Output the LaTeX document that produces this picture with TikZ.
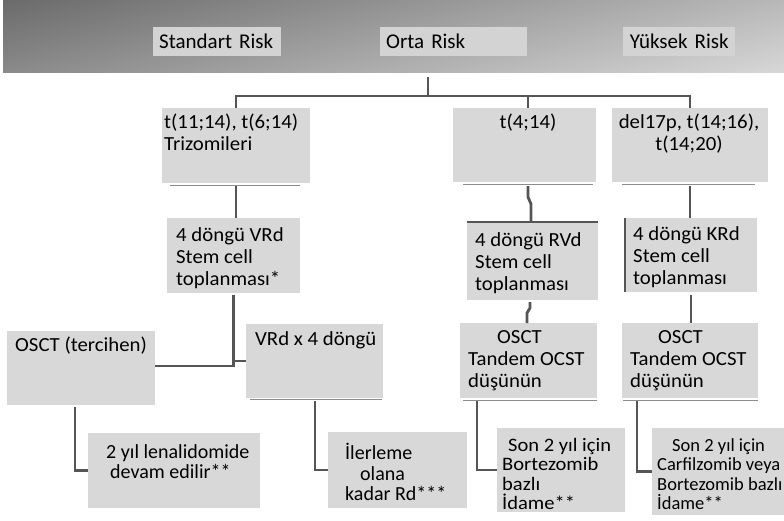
\documentclass[tikz,border=0pt]{standalone}
\usepackage{fontspec}
\setmainfont{Carlito}
\newfontfamily\bodyf[FakeStretch=1.04]{Carlito}
\newfontfamily\smallf[FakeStretch=1.08]{Carlito}
\usetikzlibrary{calc}
\definecolor{boxgray}{HTML}{D8D8D8}
\definecolor{linegray}{HTML}{555555}
\definecolor{hdrbox}{HTML}{D3D3D3}
\definecolor{hdrL}{HTML}{7A7A7A}
\definecolor{hdrR}{HTML}{D2D2D2}
\definecolor{ulgray}{HTML}{8C8C8C}
\tikzset{
  gbox/.style={fill=boxgray, draw=none, inner sep=0pt, outer sep=0pt, anchor=north west},
  hbox/.style={fill=hdrbox, draw=none, inner ysep=0pt, inner xsep=6pt, anchor=north west, minimum height=29pt, font=\fontsize{21}{24}\selectfont},
  conn/.style={draw=linegray, line width=2.8pt},
  txt/.style={inner sep=0pt, anchor=north west, align=left, font=\bodyf\fontsize{20}{22}\selectfont},
  txtc/.style={inner sep=0pt, anchor=north, align=center, font=\bodyf\fontsize{20}{22}\selectfont},
  txtk/.style={txt, font=\fontsize{20}{20.5}\selectfont},
  txts/.style={txt, font=\smallf\fontsize{19}{19.5}\selectfont},
  txtn/.style={txt, font=\fontsize{18.5}{19.5}\selectfont},
  uline/.style={draw=ulgray, line width=1pt},
}
\begin{document}
\begin{tikzpicture}[x=1pt,y=-1pt]
\useasboundingbox (0,0) rectangle (784,520);
% header band
\shade[left color=hdrL, right color=hdrR] (3,0) rectangle (784,72);
\shade[top color=black, bottom color=white, opacity=0.12] (3,0) rectangle (784,72);
% header labels
\node[hbox, text width=116pt, align=left] (SR) at (153,27) {Standart Risk};
\node[hbox, text width=135pt, align=left] (OR) at (380,27) {Orta Risk};
\node[hbox, text width=100pt, align=center] (YR) at (623,27) {Yüksek Risk};
\coordinate (hub) at (428,77);
\coordinate (bar) at (428,96);

% row 1
\node[gbox, minimum width=148pt, minimum height=75pt] (A) at (162,108) {};
\node[txt] (At) at (164,114) {t(11;14), t(6;14)\\Trizomileri};
\node[gbox, minimum width=143pt, minimum height=74pt] (B) at (453,108) {};
\node[txtc] (Bt) at (528,114) {t(4;14)};
\node[gbox, minimum width=156pt, minimum height=74pt] (C) at (612,108) {};
\node[txtc] (Ct) at (689,114) {del17p, t(14;16),\\t(14;20)};

% row 2
\node[gbox, minimum width=133pt, minimum height=75pt] (D) at (167,218) {};
\node[txt] (Dt) at (176,227) {4 döngü VRd\\Stem cell\\toplanması*};
\node[gbox, minimum width=131pt, minimum height=78pt] (G) at (467,222) {};
\node[txt] (Gt) at (475,232) {4 döngü RVd\\Stem cell\\toplanması};
\node[gbox, minimum width=132pt, minimum height=74pt] (H) at (625,218) {};
\node[txt] (Ht) at (633,226) {4 döngü KRd\\Stem cell\\toplanması};

% row 3
\node[gbox, minimum width=148pt, minimum height=74pt] (E) at (7,331) {};
\node[txt] (Et) at (15,337) {OSCT (tercihen)};
\node[gbox, minimum width=137pt, minimum height=74pt] (F) at (246,324) {};
\node[txt] (Ft) at (255,331) {VRd x 4 döngü};
\node[gbox, minimum width=137pt, minimum height=75pt] (I) at (460,323) {};
\node[txt] (It) at (468,330) {\hspace*{29pt}OSCT\\Tandem OCST\\düşünün};
\node[gbox, minimum width=136pt, minimum height=75pt] (J) at (622,323) {};
\node[txt] (Jt) at (630,330) {\hspace*{28pt}OSCT\\Tandem OCST\\düşünün};

% row 4
\node[gbox, minimum width=172pt, minimum height=75pt] (K) at (88,433) {};
\node[txtk] (Kt) at (106,444) {2 yıl lenalidomide\\\hspace*{4pt}devam edilir**};
\node[gbox, minimum width=139pt, minimum height=76pt] (L) at (328,432) {};
\node[txtk] (Lt) at (345,443) {İlerleme\\\hspace*{15pt}olana\\kadar Rd***};
\node[gbox, minimum width=128pt, minimum height=84pt] (M) at (497,428) {};
\node[txts] (Mt) at (502,438) {\hspace*{6pt}Son 2 yıl için\\Bortezomib\\bazlı\\İdame**};
\node[gbox, minimum width=140pt, minimum height=87pt] (N) at (652,428) {};
\node[txtn] (Nt) at (657,438) {\hspace*{15pt}Son 2 yıl için\\Carfilzomib veya\\Bortezomib bazlı\\İdame**};

% thin under-lines
\draw[uline] ([xshift=8pt,yshift=-2pt]A.south west) -- ([xshift=-10pt,yshift=-2pt]A.south east);
\draw[uline] ([xshift=10pt,yshift=-2pt]B.south west) -- ([xshift=-3pt,yshift=-2pt]B.south east);
\draw[uline] ([xshift=10pt,yshift=-2pt]C.south west) -- ([xshift=-13pt,yshift=-2pt]C.south east);
\draw[uline] ([xshift=4pt,yshift=-1pt]F.south west) -- ([xshift=-1pt,yshift=-1pt]F.south east);
\draw[uline] ([xshift=3pt,yshift=-2pt]I.south west) -- ([xshift=0pt,yshift=-2pt]I.south east);
\draw[uline] ([xshift=1pt,yshift=-2pt]J.south west) -- ([xshift=0pt,yshift=-2pt]J.south east);

% connectors
\draw[conn] (hub) -- (bar);
\draw[conn] (A.north) -- (A.north |- bar) -- (C.north |- bar) -- (C.north);
\draw[conn] (528,96) -- (B.north -| 528,0);
\draw[conn] (A.south |- 0,186) -- (A.south |- D.north);
\draw[conn] (528,186) -- (528,197) -- (531,204) -- (G.north -| 531,0);
\draw[conn] (G.north west) -- (G.north east);
\draw[draw=linegray, line width=1.6pt] (H.north west) -- (H.south west);
\draw[conn] (C.south |- 0,186) -- (C.south |- H.north);
\draw[conn] (D.south |- 0,295) -- (D.south |- 0,366) -- (E.east |- 0,366);
\draw[conn] (D.south |- F.west) -- (F.west);
\draw[conn] (530,302) -- (530,308) -- (527,313) -- (I.north -| 527,0);
\draw[conn] (H.south |- 0,295) -- (H.south |- J.north);
\draw[conn] (75,407) |- (K.west);
\draw[conn] (315,401) |- (L.west);
\draw[conn] (477,401) |- (M.west);
\draw[conn] (637,401) |- (N.west);
\end{tikzpicture}
\end{document}
